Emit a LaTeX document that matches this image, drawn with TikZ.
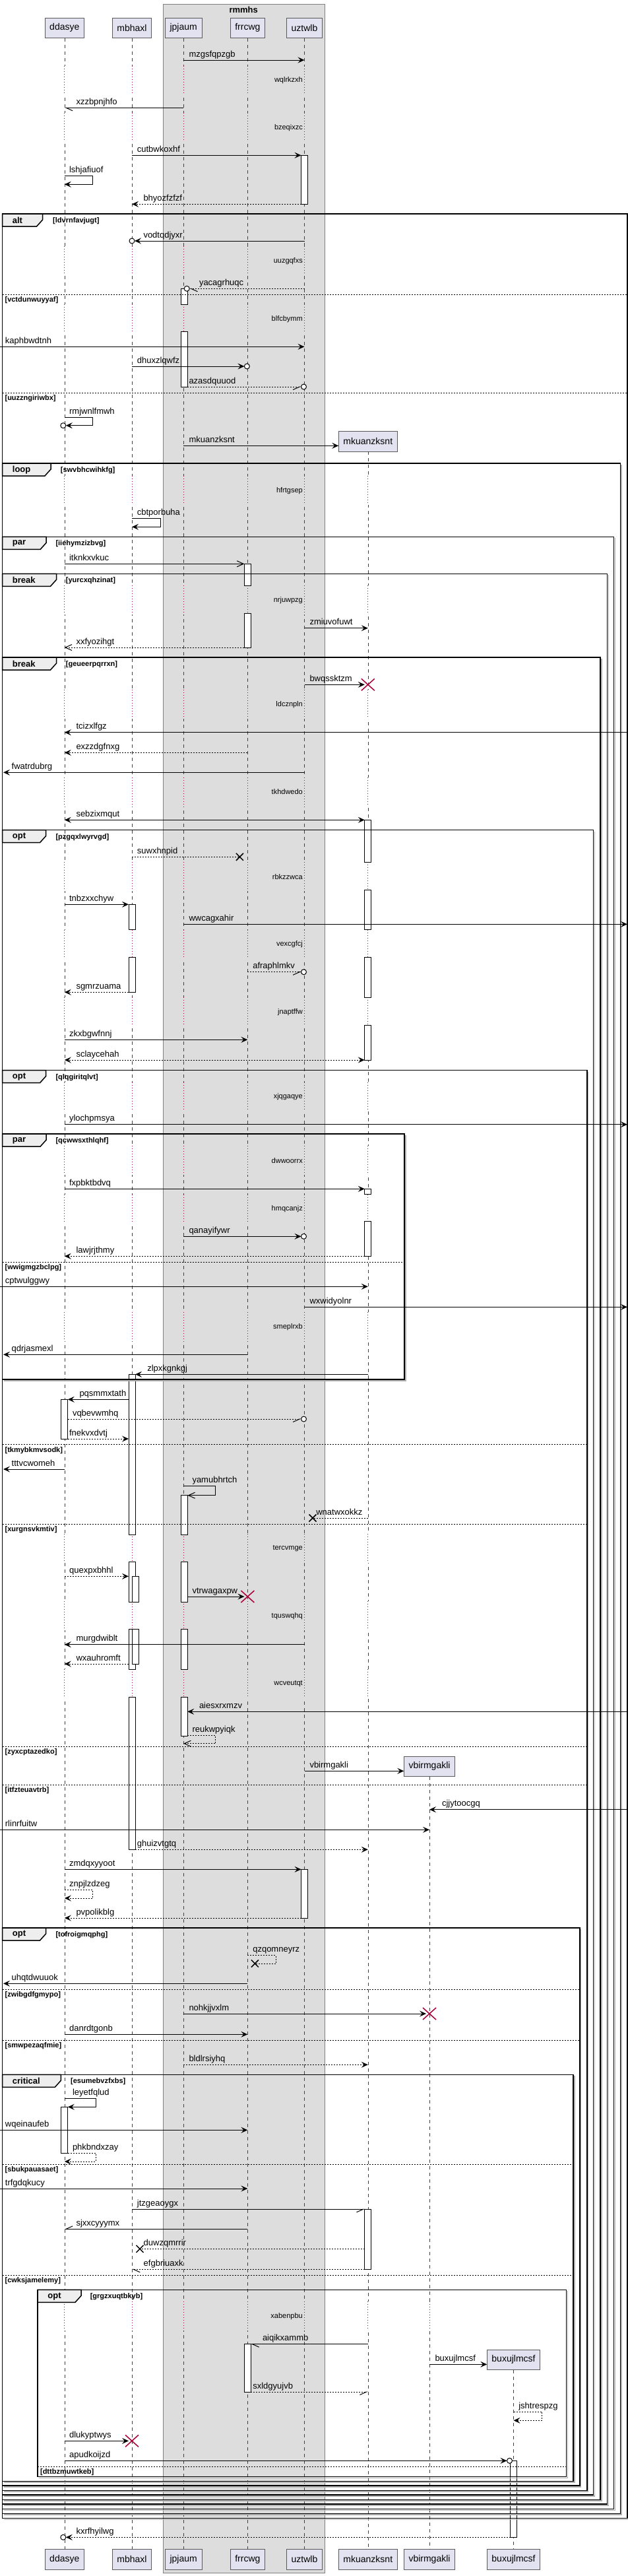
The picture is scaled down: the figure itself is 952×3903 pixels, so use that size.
\documentclass[tikz,border=0pt]{standalone}
\usepackage{fontspec}
\setmainfont{Liberation Sans}
\usetikzlibrary{arrows.meta}
\definecolor{partfill}{HTML}{E2E2F0}
\definecolor{groupfill}{HTML}{DDDDDD}
\definecolor{tabfill}{HTML}{EEEEEE}
\definecolor{delayred}{HTML}{A80036}

\begin{document}
\begin{tikzpicture}[x=1pt,y=-1pt,
  part/.style={draw=gray!70!black,fill=partfill,minimum height=30.6pt,inner xsep=7pt,inner ysep=0pt,font=\fontsize{14}{16}\selectfont},
  life/.style={draw=black!75,line width=0.5pt,dash pattern=on 5pt off 5pt},
  delay/.style={draw=delayred,line width=1pt,dash pattern=on 1pt off 3pt},
  actbar/.style={draw=black,line width=1pt,fill=white},
  frm/.style={draw=black,line width=1.5pt},
  frmshadow/.style={draw=gray!60,line width=1.5pt},
  sepline/.style={draw=black,line width=1pt,dash pattern=on 2pt off 2pt},
  lbl/.style={anchor=base west,inner sep=0pt,font=\fontsize{13}{15}\selectfont},
  dlbl/.style={anchor=east,inner sep=0pt,font=\fontsize{11}{13}\selectfont},
  guard/.style={anchor=west,inner sep=0pt,font=\bfseries\fontsize{11}{13}\selectfont},
  tablbl/.style={anchor=west,inner sep=0pt,font=\bfseries\fontsize{13}{15}\selectfont},
  sync/.style={line width=1pt,-{Stealth[length=10pt,width=9pt,inset=4pt]}},
  twoway/.style={line width=1pt,{Stealth[length=10pt,width=9pt,inset=4pt]}-{Stealth[length=10pt,width=9pt,inset=4pt]}},
  opena/.style={line width=1pt,-{Straight Barb[length=10pt,width=9pt]}},
  halfl/.style={line width=1pt,-{Straight Barb[harpoon,length=10pt,width=9pt]}},
  halfr/.style={line width=1pt,-{Straight Barb[harpoon,swap,length=10pt,width=9pt]}},
  lostline/.style={line width=1pt},
  dsh/.style={dash pattern=on 2pt off 2pt},
  endcirc/.style={draw=black,line width=1pt,fill=white},
  killx/.style={draw=delayred,line width=1.5pt},
  lostx/.style={draw=black,line width=1.5pt}]
\useasboundingbox (0,0) rectangle (952,3903);

% box group
\draw[draw=gray,fill=groupfill] (246.8,6) rectangle (491.7,3898.3);
\node[font=\bfseries\fontsize{13}{15}\selectfont] (rmmhs) at (369.2,14.7) {rmmhs};

% participants
\node[part] (ddasye) at (97.8,42) {ddasye};
\node[part] (mbhaxl) at (200,42) {mbhaxl};
\node[part] (jpjaum) at (278.2,42) {jpjaum};
\node[part] (frrcwg) at (375.4,42) {frrcwg};
\node[part] (uztwlb) at (461.5,42) {uztwlb};
\node[part] (mkuanzksnt) at (557.8,668.8) {mkuanzksnt};
\node[part] (vbirmgakli) at (651,2676.2) {vbirmgakli};
\node[part] (buxujlmcsf) at (778.5,3575.2) {buxujlmcsf};
\coordinate (lft) at (0,0);
\coordinate (rgt) at (951,0);
\foreach \p in {ddasye,mbhaxl,jpjaum,frrcwg,uztwlb,mkuanzksnt,vbirmgakli,buxujlmcsf}{
  \node[part] (\p-b) at (\p |- 0,3877.5) {\p};
  \draw[life] (\p.south) -- (\p-b.north);
}

% delays
\foreach \y/\t/\n in {121.7/wqlrkzxh/5,193.3/bzeqixzc/5,395.3/uuzgqfxs/5,483.3/blfcbymm/5,
    743.3/hfrtgsep/6,909.3/nrjuwpzg/6,1067.3/ldcznpln/6,1200/tkhdwedo/6,1328.3/rbkzzwca/6,
    1430.7/vexcgfcj/6,1533.3/jnaptffw/6,1661.7/xjqgaqye/6,1758.3/dwwoorrx/6,1831.7/hmqcanjz/6,
    2010.3/smeplrxb/6,2346/tercvmge/6,2448.3/tquswqhq/6,2551/wcveutqt/6,3509.3/xabenpbu/7}{
  \foreach \p/\c [count=\i] in {ddasye/white,mbhaxl/white,jpjaum/groupfill,frrcwg/groupfill,
      uztwlb/groupfill,mkuanzksnt/white,vbirmgakli/white}{
    \ifnum\i>\n\relax\else
      \draw[\c,line width=2pt] (\p |- 0,\y-22) -- (\p |- 0,\y+22);
      \draw[delay] (\p |- 0,\y-22) -- (\p |- 0,\y+22);
    \fi
  }
  \node[dlbl] (d-\t) at (459,\y) {\t};
}

% activation bars
\foreach \x/\a/\b in {461.5/235.3/309.3,279.4/437.3/461.7,279.4/502.3/586,375.4/854.3/887.3,
    375.4/929.3/981,557.8/1242.3/1306,557.8/1348.3/1408.3,557.8/1450/1511,557.8/1553.3/1606,
    200/1370.3/1408.3,200/1450/1503.3,557.8/1801.3/1809.3,557.8/1850/1903.3,
    200/2082.3/2325,200/2366/2427.7,200/2468.3/2529.3,200/2571/2802.3,97.9/2120.3/2180,
    279.4/2265.7/2325,279.4/2366/2427.7,279.4/2468.3/2529.3,279.4/2571/2630,
    205.3/2388.3/2427.7,205.3/2468.3/2521,461.5/2832.3/2906,97.9/3192.3/3262.7,
    557.8/3347.3/3438.3,375.4/3551.7/3624,778.5/3728.3/3844.3}
  \draw[actbar] (\x-5,\a) rectangle (\x+5,\b);

% frames
\foreach \l/\t/\r/\b/\w/\k/\gx/\g [count=\i] in {3.7/324/950.8/3815.7/64.6/alt/80/ldvrnfavjugt,
    3.7/702/940.3/3808.3/77/loop/91.7/swvbhcwihkfg,3.7/813.3/930.5/3801.7/70.2/par/84.3/iiehymzizbvg,
    3.7/869.3/920.6/3794/85.5/break/99.7/yurcxqhzinat,3.7/996/910.2/3787.3/85.5/break/99.7/geueerpqrrxn,
    3.7/1257.7/899.7/3780/69.5/opt/84.3/pzgqxlwyrvgd,3.7/1621.7/889.8/3773.3/69.5/opt/84.3/qlqgiritqlvt,
    3.7/1718/613/2090/70.2/par/84.3/qcwwsxthlqhf,3.7/2921/878.8/3766/69.5/opt/84.3/tofroigmqphg,
    3.7/3143.3/869/3759.3/92.3/critical/107/esumebvzfxbs,57.2/3469.3/858.5/3752.7/123/opt/136.6/grgzxuqtbkyb}{
  \draw[frmshadow] (\r+1.8,\t+2) -- (\r+1.8,\b+1.8) -- (\l+2,\b+1.8);
  \draw[frm] (\l,\t) rectangle (\r,\b);
  \draw[frm,fill=tabfill] (\l,\t) -- (\w,\t) -- (\w,\t+9) -- (\w-9,\t+19) -- (\l,\t+19) -- cycle;
  \node[tablbl] (tab\i) at (\l+15,\t+10) {\k};
  \node[guard] (grd\i) at (\gx,\t+10.5) {[\g]};
}
\foreach \l/\y/\r/\g [count=\i] in {3.7/446.3/950.8/vctdunwuyyaf,3.7/595.3/950.8/uuzzngiriwbx,
    3.7/1912.3/613/wwigmgzbclpg,3.7/2188.7/889.8/tkmybkmvsodk,3.7/2309.3/889.8/xurgnsvkmtiv,
    3.7/2646.3/889.8/zyxcptazedko,3.7/2704.3/889.8/itfzteuavtrb,3.7/3014/878.8/zwibgdfgmypo,
    3.7/3091/878.8/smwpezaqfmie,3.7/3279.3/869/sbukpauasaet,3.7/3447.3/869/cwksjamelemy,
    57.2/3737.3/858.5/dttbzmuwtkeb}{
  \draw[sepline] (\l,\y) -- (\r,\y);
  \node[guard] (els\i) at (\l+3.7,\y+8.7) {[\g]};
}

% messages
\draw[sync] (jpjaum |- 0,91) -- (uztwlb |- 0,91) node[lbl] (m-mzgsfqpzgb) at (286,86) {mzgsfqpzgb};
\draw[halfl] (jpjaum |- 0,163.3) -- (ddasye |- 0,163.3) node[lbl] (m-xzzbpnjhfo) at (115,158.3) {xzzbpnjhfo};
\draw[sync,shorten >=5pt] (mbhaxl |- 0,235.3) -- (uztwlb |- 0,235.3) node[lbl] (m-cutbwkoxhf) at (207.4,230.3) {cutbwkoxhf};
\draw[sync] (ddasye |- 0,266.7) -- ++(42.5,0) -- ++(0,12.6) -- (ddasye |- 0,279.3) node[lbl] (m-lshjafiuof) at (104.6,261.7) {lshjafiuof};
\draw[sync,dsh,shorten <=5pt] (uztwlb |- 0,309.3) -- (mbhaxl |- 0,309.3) node[lbl] (m-bhyozfzfzf) at (217,304.3) {bhyozfzfzf};
\draw[sync,shorten >=4pt] (uztwlb |- 0,365) -- (mbhaxl |- 0,365) node[lbl] (m-vodtqdjyxr) at (217,360) {vodtqdjyxr};
\draw[endcirc] (mbhaxl |- 0,365) circle[radius=4pt];
\draw[halfl,dsh,shorten >=9pt] (uztwlb |- 0,437.3) -- (jpjaum |- 0,437.3) node[lbl] (m-yacagrhuqc) at (301.5,432.3) {yacagrhuqc};
\draw[endcirc] (jpjaum |- 0,437.3) ++(5,0) circle[radius=4pt];
\draw[sync] (lft |- 0,525.3) -- (uztwlb |- 0,525.3) node[lbl] (m-kaphbwdtnh) at (7.4,520.3) {kaphbwdtnh};
\draw[sync,shorten >=5pt] (mbhaxl |- 0,555) -- (frrcwg |- 0,555) node[lbl] (m-dhuxzlqwfz) at (207.4,550) {dhuxzlqwfz};
\draw[endcirc] (frrcwg |- 0,555) ++(-1,0) circle[radius=4pt];
\draw[halfr,dsh,shorten <=6pt,shorten >=5pt] (jpjaum |- 0,586) -- (uztwlb |- 0,586) node[lbl] (m-azasdquuod) at (286,581) {azasdquuod};
\draw[endcirc] (uztwlb |- 0,586) ++(-1,0) circle[radius=4pt];
\draw[sync] (ddasye |- 0,632.7) -- ++(42.5,0) -- ++(0,12) -- ++(-40.5,0) node[lbl] (m-rmjwnlfmwh) at (104.6,627.7) {rmjwnlfmwh};
\draw[endcirc] (ddasye |- 0,644.7) ++(-2,0) circle[radius=4pt];
\draw[sync] (jpjaum |- 0,675.3) -- (mkuanzksnt.west |- 0,675.3) node[lbl] (m-mkuanzksnt) at (286,670.3) {mkuanzksnt};
\draw[sync] (mbhaxl |- 0,785.3) -- ++(43,0) -- ++(0,13) -- (mbhaxl |- 0,798.3) node[lbl] (m-cbtporbuha) at (207.4,780.3) {cbtporbuha};
\draw[opena,shorten >=5pt] (ddasye |- 0,854.3) -- (frrcwg |- 0,854.3) node[lbl] (m-itknkxvkuc) at (104.6,849.3) {itknkxvkuc};
\draw[sync] (uztwlb |- 0,951.7) -- (mkuanzksnt |- 0,951.7) node[lbl] (m-zmiuvofuwt) at (469,946.7) {zmiuvofuwt};
\draw[opena,dsh,shorten <=5pt] (frrcwg |- 0,981) -- (ddasye |- 0,981) node[lbl] (m-xxfyozihgt) at (115,976) {xxfyozihgt};
\draw[sync,shorten >=5pt] (uztwlb |- 0,1037.3) -- (mkuanzksnt |- 0,1037.3) node[lbl] (m-bwqssktzm) at (469,1032.3) {bwqssktzm};
\draw[killx] (mkuanzksnt |- 0,1037.3) +(-10,-9) -- +(10,9) +(-10,9) -- +(10,-9);
\draw[sync] (rgt |- 0,1109.7) -- (ddasye |- 0,1109.7) node[lbl] (m-tcizxlfgz) at (115,1104.7) {tcizxlfgz};
\draw[sync,dsh] (frrcwg |- 0,1140.3) -- (ddasye |- 0,1140.3) node[lbl] (m-exzzdgfnxg) at (115,1135.3) {exzzdgfnxg};
\draw[sync,shorten >=5pt] (uztwlb |- 0,1170.3) -- (lft |- 0,1170.3) node[lbl] (m-fwatrdubrg) at (17.2,1165.3) {fwatrdubrg};
\draw[twoway,shorten >=5pt] (ddasye |- 0,1242.3) -- (mkuanzksnt |- 0,1242.3) node[lbl] (m-sebzixmqut) at (115,1237.3) {sebzixmqut};
\draw[lostline,dsh,shorten >=12pt] (mbhaxl |- 0,1298.3) -- (frrcwg |- 0,1298.3) node[lbl] (m-suwxhnpid) at (207.4,1293.3) {suwxhnpid};
\draw[lostx] (frrcwg |- 0,1298.3) ++(-12,0) +(-5.5,-5.5) -- +(5.5,5.5) +(-5.5,5.5) -- +(5.5,-5.5);
\draw[sync,shorten >=5pt] (ddasye |- 0,1370.3) -- (mbhaxl |- 0,1370.3) node[lbl] (m-tnbzxxchyw) at (104.6,1365.3) {tnbzxxchyw};
\draw[sync] (jpjaum |- 0,1400.3) -- (rgt |- 0,1400.3) node[lbl] (m-wwcagxahir) at (286,1395.3) {wwcagxahir};
\draw[halfr,dsh,shorten >=5pt] (frrcwg |- 0,1472.7) -- (uztwlb |- 0,1472.7) node[lbl] (m-afraphlmkv) at (382.8,1467.7) {afraphlmkv};
\draw[endcirc] (uztwlb |- 0,1472.7) ++(-1,0) circle[radius=4pt];
\draw[sync,dsh,shorten <=5pt] (mbhaxl |- 0,1503.3) -- (ddasye |- 0,1503.3) node[lbl] (m-sgmrzuama) at (115,1498.3) {sgmrzuama};
\draw[sync] (ddasye |- 0,1575.3) -- (frrcwg |- 0,1575.3) node[lbl] (m-zkxbgwfnnj) at (104.6,1570.3) {zkxbgwfnnj};
\draw[twoway,dsh,shorten <=5pt] (mkuanzksnt |- 0,1606) -- (ddasye |- 0,1606) node[lbl] (m-sclaycehah) at (115,1601) {sclaycehah};
\draw[sync] (ddasye |- 0,1703.7) -- (rgt |- 0,1703.7) node[lbl] (m-ylochpmsya) at (104.6,1698.7) {ylochpmsya};
\draw[sync,shorten >=5pt] (ddasye |- 0,1801.3) -- (mkuanzksnt |- 0,1801.3) node[lbl] (m-fxpbktbdvq) at (104.6,1796.3) {fxpbktbdvq};
\draw[sync,shorten >=5pt] (jpjaum |- 0,1873.3) -- (uztwlb |- 0,1873.3) node[lbl] (m-qanayifywr) at (286,1868.3) {qanayifywr};
\draw[endcirc] (uztwlb |- 0,1873.3) ++(-1,0) circle[radius=4pt];
\draw[sync,dsh,shorten <=5pt] (mkuanzksnt |- 0,1903.3) -- (ddasye |- 0,1903.3) node[lbl] (m-lawjrjthmy) at (115,1898.3) {lawjrjthmy};
\draw[sync] (lft |- 0,1949.3) -- (mkuanzksnt |- 0,1949.3) node[lbl] (m-cptwulggwy) at (7.4,1944.3) {cptwulggwy};
\draw[sync] (uztwlb |- 0,1980.3) -- (rgt |- 0,1980.3) node[lbl] (m-wxwidyolnr) at (469,1975.3) {wxwidyolnr};
\draw[sync,shorten >=5pt] (frrcwg |- 0,2052.3) -- (lft |- 0,2052.3) node[lbl] (m-qdrjasmexl) at (17.2,2047.3) {qdrjasmexl};
\draw[sync,shorten >=5pt] (mkuanzksnt |- 0,2082.3) -- (mbhaxl |- 0,2082.3) node[lbl] (m-zlpxkgnkgj) at (222.8,2077.3) {zlpxkgnkgj};
\draw[sync,shorten <=5pt,shorten >=5pt] (mbhaxl |- 0,2120.3) -- (ddasye |- 0,2120.3) node[lbl] (m-pqsmmxtath) at (120,2115.3) {pqsmmxtath};
\draw[halfr,dsh,shorten <=5pt,shorten >=5pt] (ddasye |- 0,2150) -- (uztwlb |- 0,2150) node[lbl] (m-vqbevwmhq) at (109.5,2145) {vqbevwmhq};
\draw[endcirc] (uztwlb |- 0,2150) ++(-1,0) circle[radius=4pt];
\draw[sync,dsh,shorten <=5pt,shorten >=5pt] (ddasye |- 0,2180) -- (mbhaxl |- 0,2180) node[lbl] (m-fnekvxdvtj) at (104.6,2175) {fnekvxdvtj};
\draw[sync,shorten >=5pt] (ddasye |- 0,2226) -- (lft |- 0,2226) node[lbl] (m-tttvcwomeh) at (17.2,2221) {tttvcwomeh};
\draw[opena] (jpjaum |- 0,2251.7) -- ++(48,0) -- ++(0,14) -- ++(-41.8,0) node[lbl] (m-yamubhrtch) at (291,2246.7) {yamubhrtch};
\draw[lostline,dsh,shorten >=12.5pt] (mkuanzksnt |- 0,2300) -- (uztwlb |- 0,2300) node[lbl] (m-wnatwxokkz) at (478.8,2295) {wnatwxokkz};
\draw[lostx] (uztwlb |- 0,2300) ++(12.5,0) +(-5.5,-5.5) -- +(5.5,5.5) +(-5.5,5.5) -- +(5.5,-5.5);
\draw[sync,dsh,shorten >=5pt] (ddasye |- 0,2388.3) -- (mbhaxl |- 0,2388.3) node[lbl] (m-quexpxbhhl) at (104.6,2383.3) {quexpxbhhl};
\draw[sync,shorten <=6pt,shorten >=5pt] (jpjaum |- 0,2419) -- (frrcwg |- 0,2419) node[lbl] (m-vtrwagaxpw) at (291,2414) {vtrwagaxpw};
\draw[killx] (frrcwg |- 0,2419) +(-10,-9) -- +(10,9) +(-10,9) -- +(10,-9);
\draw[sync] (uztwlb |- 0,2491.7) -- (ddasye |- 0,2491.7) node[lbl] (m-murgdwiblt) at (115,2486.7) {murgdwiblt};
\draw[sync,dsh,shorten <=5pt] (mbhaxl |- 0,2521) -- (ddasye |- 0,2521) node[lbl] (m-wxauhromft) at (115,2516) {wxauhromft};
\draw[sync,shorten >=6pt] (rgt |- 0,2593.3) -- (jpjaum |- 0,2593.3) node[lbl] (m-aiesxrxmzv) at (301.5,2588.3) {aiesxrxmzv};
\draw[opena,dsh] (jpjaum |- 0,2629.3) ++(6,0) -- ++(42.5,0) -- ++(0,12.4) -- (jpjaum |- 0,2641.7) node[lbl] (m-reukwpyiqk) at (291,2624.3) {reukwpyiqk};
\draw[sync] (uztwlb |- 0,2683.3) -- (vbirmgakli.west |- 0,2683.3) node[lbl] (m-vbirmgakli) at (469,2678.3) {vbirmgakli};
\draw[sync] (rgt |- 0,2741.7) -- (vbirmgakli |- 0,2741.7) node[lbl] (m-cjjytoocgq) at (669.5,2736.7) {cjjytoocgq};
\draw[sync] (lft |- 0,2772.3) -- (vbirmgakli |- 0,2772.3) node[lbl] (m-rlinrfuitw) at (7.4,2767.3) {rlinrfuitw};
\draw[sync,dsh,shorten <=5pt] (mbhaxl |- 0,2802.3) -- (mkuanzksnt |- 0,2802.3) node[lbl] (m-ghuizvtgtq) at (207.4,2797.3) {ghuizvtgtq};
\draw[sync,shorten >=5pt] (ddasye |- 0,2832.3) -- (uztwlb |- 0,2832.3) node[lbl] (m-zmdqxyyoot) at (104.6,2827.3) {zmdqxyyoot};
\draw[sync,dsh] (ddasye |- 0,2863.3) -- ++(42.5,0) -- ++(0,12.7) -- (ddasye |- 0,2876) node[lbl] (m-znpjlzdzeg) at (104.6,2858.3) {znpjlzdzeg};
\draw[sync,dsh,shorten <=5pt] (uztwlb |- 0,2906) -- (ddasye |- 0,2906) node[lbl] (m-pvpolikblg) at (115,2901) {pvpolikblg};
\draw[lostline,dsh] (frrcwg |- 0,2962.7) -- ++(43,0) -- ++(0,12.3) -- ++(-32,0) node[lbl] (m-qzqomneyrz) at (382.8,2957.7) {qzqomneyrz};
\draw[lostx] (frrcwg |- 0,2975) ++(11,0) +(-5.5,-5.5) -- +(5.5,5.5) +(-5.5,5.5) -- +(5.5,-5.5);
\draw[sync,shorten >=5pt] (frrcwg |- 0,3005.3) -- (lft |- 0,3005.3) node[lbl] (m-uhqtdwuuok) at (17.2,3000.3) {uhqtdwuuok};
\draw[sync,shorten >=5pt] (jpjaum |- 0,3051) -- (vbirmgakli |- 0,3051) node[lbl] (m-nohkjjvxlm) at (286,3046) {nohkjjvxlm};
\draw[killx] (vbirmgakli |- 0,3051) +(-10,-9) -- +(10,9) +(-10,9) -- +(10,-9);
\draw[sync] (ddasye |- 0,3082.3) -- (frrcwg |- 0,3082.3) node[lbl] (m-danrdtgonb) at (104.6,3077.3) {danrdtgonb};
\draw[sync,dsh] (jpjaum |- 0,3128.3) -- (mkuanzksnt |- 0,3128.3) node[lbl] (m-bldlrsiyhq) at (286,3123.3) {bldlrsiyhq};
\draw[sync] (ddasye |- 0,3179.3) -- ++(47.4,0) -- ++(0,13) -- ++(-42.4,0) node[lbl] (m-leyetfqlud) at (109.5,3174.3) {leyetfqlud};
\draw[sync] (lft |- 0,3227.3) -- (frrcwg |- 0,3227.3) node[lbl] (m-wqeinaufeb) at (7.4,3222.3) {wqeinaufeb};
\draw[sync,dsh] (ddasye |- 0,3262.3) ++(5,0) -- ++(42.4,0) -- ++(0,12.7) -- (ddasye |- 0,3275) node[lbl] (m-phkbndxzay) at (109.5,3257.3) {phkbndxzay};
\draw[sync] (lft |- 0,3316) -- (frrcwg |- 0,3316) node[lbl] (m-trfgdqkucy) at (7.4,3311) {trfgdqkucy};
\draw[halfr,shorten >=5pt] (mbhaxl |- 0,3347.3) -- (mkuanzksnt |- 0,3347.3) node[lbl] (m-jtzgeaoygx) at (207.4,3342.3) {jtzgeaoygx};
\draw[halfr] (frrcwg |- 0,3377.3) -- (ddasye |- 0,3377.3) node[lbl] (m-sjxxcyyymx) at (115,3372.3) {sjxxcyyymx};
\draw[lostline,dsh,shorten <=5pt,shorten >=12pt] (mkuanzksnt |- 0,3407.3) -- (mbhaxl |- 0,3407.3) node[lbl] (m-duwzqmrrir) at (217.2,3402.3) {duwzqmrrir};
\draw[lostx] (mbhaxl |- 0,3407.3) ++(12,0) +(-5.5,-5.5) -- +(5.5,5.5) +(-5.5,5.5) -- +(5.5,-5.5);
\draw[halfl,dsh,shorten <=5pt] (mkuanzksnt |- 0,3438.3) -- (mbhaxl |- 0,3438.3) node[lbl] (m-efgbriuaxk) at (217.2,3433.3) {efgbriuaxk};
\draw[halfl,shorten >=5pt] (mkuanzksnt |- 0,3551.7) -- (frrcwg |- 0,3551.7) node[lbl] (m-aiqikxammb) at (397.5,3546.7) {aiqikxammb};
\draw[sync] (vbirmgakli |- 0,3582.3) -- (buxujlmcsf.west |- 0,3582.3) node[lbl] (m-buxujlmcsf) at (659,3577.3) {buxujlmcsf};
\draw[halfr,dsh,shorten <=5pt] (frrcwg |- 0,3624) -- (mkuanzksnt |- 0,3624) node[lbl] (m-sxldgyujvb) at (382.8,3619) {sxldgyujvb};
\draw[sync,dsh] (buxujlmcsf |- 0,3654.3) -- ++(43,0) -- ++(0,13) -- (buxujlmcsf |- 0,3667.3) node[lbl] (m-jshtrespzg) at (785.8,3649.3) {jshtrespzg};
\draw[sync,shorten >=5pt] (ddasye |- 0,3698.3) -- (mbhaxl |- 0,3698.3) node[lbl] (m-dlukyptwys) at (104.6,3693.3) {dlukyptwys};
\draw[killx] (mbhaxl |- 0,3698.3) +(-10,-9) -- +(10,9) +(-10,9) -- +(10,-9);
\draw[sync,shorten >=10pt] (ddasye |- 0,3728.3) -- (buxujlmcsf |- 0,3728.3) node[lbl] (m-apudkoijzd) at (104.6,3723.3) {apudkoijzd};
\draw[endcirc] (buxujlmcsf |- 0,3728.3) ++(-6,0) circle[radius=4pt];
\draw[sync,dsh,shorten <=5pt,shorten >=2pt] (buxujlmcsf |- 0,3844.3) -- (ddasye |- 0,3844.3) node[lbl] (m-kxrfhyilwg) at (115,3839.3) {kxrfhyilwg};
\draw[endcirc] (ddasye |- 0,3844.3) ++(-2,0) circle[radius=4pt];

\end{tikzpicture}
\end{document}
